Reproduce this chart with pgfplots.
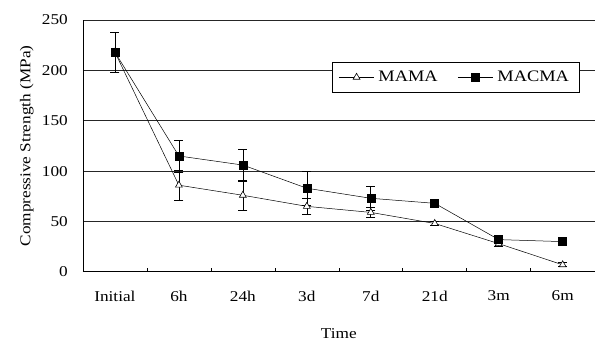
\documentclass[border=0pt]{standalone}
\usepackage{pgfplots}
\pgfplotsset{compat=1.18}
\usepackage{fontspec}
\setmainfont{Liberation Serif}[FakeStretch=1.15]
\begin{document}
\fontsize{15}{18}\selectfont
\begin{tikzpicture}
\begin{axis}[
  scale only axis,
  width=512pt, height=252pt,
  xmin=-0.5, xmax=7.5, ymin=0, ymax=250,
  axis lines=left,
  axis line style={black, line width=0.7pt, -},
  xtick={0,...,7},
  xticklabels={Initial,6h,24h,3d,7d,21d,3m,6m},
  minor xtick={0.5,1.5,...,6.5},
  major tick length=0pt,
  minor tick length=4pt,
  tick align=inside,
  tick style={black, line width=0.6pt},
  ytick={0,50,...,250},
  ymajorgrids,
  grid style={black!85, line width=0.7pt},
  xticklabel style={yshift=-14pt},
  yticklabel style={xshift=-10pt},
  ticklabel style={font=\fontsize{15}{18}\selectfont},
  /pgf/number format/assume math mode=true,
  xlabel={Time},
  ylabel={Compressive Strength (MPa)},
  label style={font=\fontsize{15}{18}\selectfont},
  xlabel style={yshift=-17pt},
  ylabel style={yshift=-2pt},
  legend columns=2,
  legend style={at={(0.97,0.835)}, anchor=north east, draw=black, line width=0.7pt, fill=white,
    font=\fontsize{16}{18}\selectfont, inner xsep=6pt, inner ysep=7pt,
    nodes={inner xsep=4pt},
    /tikz/every even column/.append style={column sep=16pt}},
  legend image code/.code={\draw[mark repeat=2,mark phase=2,#1] plot coordinates {(0cm,0cm) (0.62cm,0cm) (1.24cm,0cm)};},
  clip=false,
]
\addplot[black, line width=0.5pt, mark=triangle*, mark options={fill=white, solid, line width=0.6pt}, mark size=4pt,
  error bars/.cd, y dir=both, y explicit, error bar style={black, line width=0.6pt}, error mark options={rotate=90, mark size=4.5pt, black, line width=0.6pt}]
  coordinates {
  (0,218) +- (0,20)
  (1,86) +- (0,15)
  (2,76) +- (0,15)
  (3,65) +- (0,8)
  (4,59) +- (0,5)
  (5,48) +- (0,2)
  (6,28) +- (0,3)
  (7,7) +- (0,2)
  };
\addlegendentry{MAMA}
\addplot[black, line width=0.5pt, mark=square*, mark options={fill=black, solid}, mark size=4pt,
  error bars/.cd, y dir=both, y explicit, error bar style={black, line width=0.6pt}, error mark options={rotate=90, mark size=4.5pt, black, line width=0.6pt}]
  coordinates {
  (0,218) +- (0,20)
  (1,115) +- (0,16)
  (2,106) +- (0,16)
  (3,83) +- (0,17)
  (4,73) +- (0,12)
  (5,68) +- (0,2)
  (6,32) +- (0,2)
  (7,30) +- (0,2)
  };
\addlegendentry{MACMA}
\end{axis}
\path (current axis.south west) ++(-83pt,-67pt) rectangle ([yshift=20pt]current axis.north east);
\end{tikzpicture}
\end{document}
